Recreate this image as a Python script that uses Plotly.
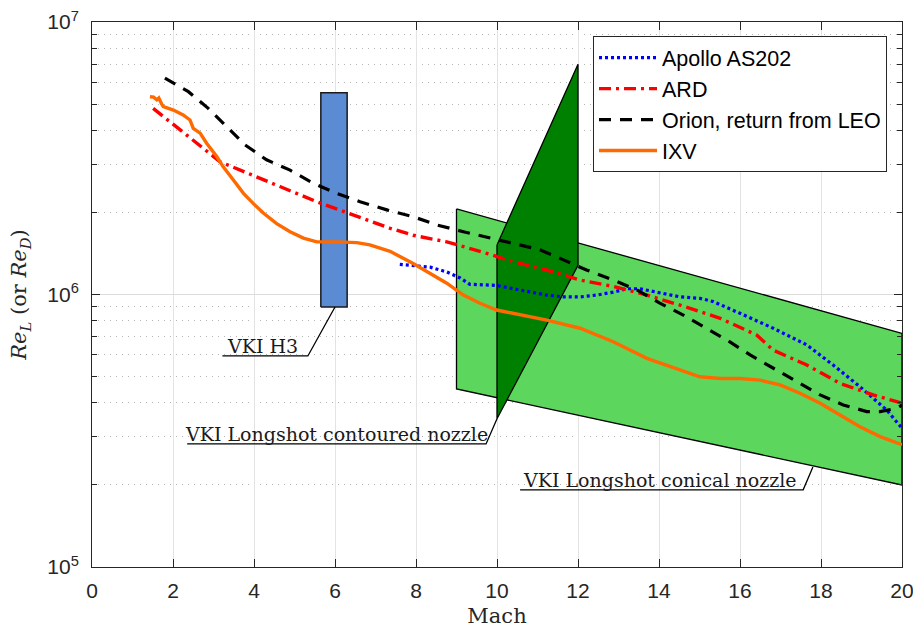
import math
import plotly.graph_objects as go

# ---------------- data ----------------
apollo_mach = [7.6, 8.35, 8.76, 9.09, 9.33, 9.99, 10.4, 10.81, 11.23, 11.64, 12.05, 12.46, 12.87,
               13.2, 13.53, 13.94, 14.52, 15.01, 15.34, 16.0, 16.82, 17.65, 18.3, 18.96, 19.62, 20.0]
apollo_re = [1.29e6, 1.26e6, 1.21e6, 1.15e6, 1.09e6, 1.08e6, 1.05e6, 1.02e6, 9.95e5, 9.8e5, 9.8e5,
             9.95e5, 1.02e6, 1.05e6, 1.05e6, 1.02e6, 9.8e5, 9.68e5, 9.42e5, 8.53e5, 7.52e5, 6.53e5,
             5.51e5, 4.59e5, 3.77e5, 3.23e5]

ard_mach = [1.51, 2.01, 2.59, 3.16, 3.82, 4.64, 5.55, 6.54, 7.36, 7.93, 8.76, 9.58, 10.4, 11.23,
            12.05, 12.87, 13.7, 14.52, 15.51, 16.41, 16.82, 17.65, 18.47, 19.29, 20.0]
ard_re = [4.82e6, 4.19e6, 3.59e6, 3.07e6, 2.79e6, 2.49e6, 2.19e6, 1.93e6, 1.75e6, 1.65e6, 1.56e6,
          1.44e6, 1.32e6, 1.23e6, 1.13e6, 1.07e6, 9.95e5, 9.14e5, 8.18e5, 7.10e5, 6.25e5, 5.51e5,
          4.72e5, 4.28e5, 3.99e5]

orion_mach = [1.8, 2.38, 2.87, 3.33, 3.78, 4.31, 4.89, 5.46, 6.04, 6.62, 7.3, 7.93, 8.51, 9.17,
              9.83, 10.4, 11.06, 11.64, 12.21, 12.87, 13.45, 14.02, 14.6, 15.18, 15.75, 16.25,
              16.82, 17.4, 17.98, 18.55, 19.13, 19.46, 19.87, 20.0]
orion_re = [6.22e6, 5.55e6, 4.82e6, 4.13e6, 3.54e6, 3.12e6, 2.86e6, 2.56e6, 2.35e6, 2.19e6, 2.04e6,
            1.93e6, 1.80e6, 1.70e6, 1.61e6, 1.54e6, 1.46e6, 1.34e6, 1.23e6, 1.13e6, 1.04e6, 9.3e5,
            8.4e5, 7.5e5, 6.7e5, 6.0e5, 5.36e5, 4.79e5, 4.28e5, 3.93e5, 3.72e5, 3.72e5, 3.82e5, 3.93e5]

ixv_mach = [1.43, 1.52, 1.6, 1.65, 1.72, 1.76, 2.01, 2.25, 2.42, 2.5, 2.67, 2.83, 3.08, 3.24, 3.49,
            3.74, 3.98, 4.23, 4.56, 4.89, 5.22, 5.55, 6.04, 6.54, 6.86, 7.36, 7.93, 8.76, 9.17,
            9.58, 9.99, 10.4, 10.81, 11.23, 12.05, 12.87, 13.7, 14.52, 15.01, 15.51, 16.0, 16.49,
            16.99, 17.48, 17.98, 18.47, 18.96, 19.46, 20.0]
ixv_re = [5.32e6, 5.30e6, 5.18e6, 5.26e6, 5.0e6, 4.89e6, 4.75e6, 4.56e6, 4.37e6, 4.07e6, 3.91e6,
          3.59e6, 3.21e6, 2.94e6, 2.63e6, 2.35e6, 2.16e6, 1.99e6, 1.82e6, 1.70e6, 1.61e6, 1.56e6,
          1.56e6, 1.55e6, 1.52e6, 1.44e6, 1.30e6, 1.10e6, 9.95e5, 9.29e5, 8.77e5, 8.53e5, 8.34e5,
          8.05e5, 7.52e5, 6.71e5, 5.83e5, 5.28e5, 4.99e5, 4.92e5, 4.92e5, 4.85e5, 4.66e5, 4.34e5,
          3.99e5, 3.61e5, 3.27e5, 3.01e5, 2.81e5]

# facility envelopes
h3_mach = [5.65, 6.3]
h3_re = [9.0e5, 5.5e6]
conical_mach = [9.0, 20.0]
conical_upper = [2.06e6, 7.2e5]
conical_lower = [4.5e5, 2.0e5]
contoured_mach = [10.0, 12.0]
contoured_upper = [1.52e6, 7.0e6]
contoured_lower = [3.5e5, 1.28e6]

x_ticks = [0, 2, 4, 6, 8, 10, 12, 14, 16, 18, 20]
y_ticks = [1e5, 1e6, 1e7]
y_tick_text = ["10<sup>5</sup>", "10<sup>6</sup>", "10<sup>7</sup>"]
y_minor = [m * 10 ** e for e in (5, 6) for m in range(2, 10)]

# ---------------- figure ----------------
fig = go.Figure()
edge = dict(color="black", width=1.3)

# conical nozzle (light green)
fig.add_trace(go.Scatter(
    x=[conical_mach[0], conical_mach[1], conical_mach[1], conical_mach[0], conical_mach[0]],
    y=[conical_upper[0], conical_upper[1], conical_lower[1], conical_lower[0], conical_upper[0]],
    mode="lines", fill="toself", fillcolor="#5cd65c", line=edge, showlegend=False, hoverinfo="skip"))
# contoured nozzle (dark green)
fig.add_trace(go.Scatter(
    x=[contoured_mach[0], contoured_mach[1], contoured_mach[1], contoured_mach[0], contoured_mach[0]],
    y=[contoured_upper[0], contoured_upper[1], contoured_lower[1], contoured_lower[0], contoured_upper[0]],
    mode="lines", fill="toself", fillcolor="#008000", line=edge, showlegend=False, hoverinfo="skip"))
# H3 (blue)
fig.add_trace(go.Scatter(
    x=[h3_mach[0], h3_mach[1], h3_mach[1], h3_mach[0], h3_mach[0]],
    y=[h3_re[0], h3_re[0], h3_re[1], h3_re[1], h3_re[0]],
    mode="lines", fill="toself", fillcolor="#5b8bd3", line=dict(color="#1a1a1a", width=1.5),
    showlegend=False, hoverinfo="skip"))

# callouts: (text, text centre mach, underline start, underline end, underline Re, target mach, target Re)
callouts = [
    ("VKI H3", 4.2, 3.22, 5.33, 5.95e5, 6.0, h3_re[0]),
    ("VKI Longshot contoured nozzle", 6.03, 2.35, 9.73, 2.83e5, contoured_mach[0], contoured_lower[0]),
    ("VKI Longshot conical nozzle", 14.02, 10.57, 17.56, 1.92e5, 17.8, 2.33e5),
]
for txt, xc, x0, x1, yu, xt, yt in callouts:
    fig.add_trace(go.Scatter(x=[x0, x1, xt], y=[yu, yu, yt], mode="lines",
                             line=dict(color="black", width=1.3), showlegend=False, hoverinfo="skip"))
    fig.add_annotation(x=xc, y=math.log10(yu), xref="x", yref="y", text=txt, showarrow=False,
                       yanchor="bottom", yshift=-3,
                       font=dict(family="DejaVu Serif", size=19, color="#1a1a1a"))

# curves
fig.add_trace(go.Scatter(x=apollo_mach, y=apollo_re, mode="lines", name="Apollo AS202",
                         line=dict(color="#0000ff", width=3.2, dash="3px,3px")))
fig.add_trace(go.Scatter(x=ard_mach, y=ard_re, mode="lines", name="ARD",
                         line=dict(color="#ff0000", width=3.4, dash="12px,5px,3px,5px")))
fig.add_trace(go.Scatter(x=orion_mach, y=orion_re, mode="lines", name="Orion, return from LEO",
                         line=dict(color="#000000", width=3.2, dash="12px,9px")))
fig.add_trace(go.Scatter(x=ixv_mach, y=ixv_re, mode="lines", name="IXV",
                         line=dict(color="#ff6a00", width=3.4)))

axis_col = "#262626"
fig.update_layout(
    width=913, height=628,
    margin=dict(l=92, r=11, t=22, b=61, autoexpand=False),
    paper_bgcolor="white", plot_bgcolor="white",
    font=dict(family="Liberation Sans", size=21, color=axis_col),
    showlegend=True,
    legend=dict(x=0.9815, y=0.974, xanchor="right", yanchor="top",
                bgcolor="white", bordercolor=axis_col, borderwidth=1,
                font=dict(family="Liberation Sans", size=21.5, color="black"),
                itemwidth=58, tracegroupgap=0),
    xaxis=dict(range=[0, 20], tickvals=x_ticks, ticks="inside", ticklen=8, tickcolor=axis_col,
               showline=True, linecolor=axis_col, linewidth=1, mirror="allticks",
               showgrid=True, gridcolor="#e3e3e3", gridwidth=1, zeroline=False, automargin=False,
               ticklabeloverflow="allow", ticklabelstandoff=5,
               title=dict(text="Mach", font=dict(family="DejaVu Serif", size=21), standoff=9),
               tickfont=dict(size=21)),
    yaxis=dict(type="log", range=[5, 7], tickvals=y_ticks, ticktext=y_tick_text,
               ticks="inside", ticklen=8, tickcolor=axis_col, automargin=False,
               ticklabeloverflow="allow", ticklabelstandoff=8,
               showline=True, linecolor=axis_col, linewidth=1, mirror="allticks",
               showgrid=True, gridcolor="#dcdcdc", gridwidth=1, zeroline=False,
               minor=dict(tickvals=y_minor, ticks="inside", ticklen=5, tickcolor=axis_col,
                          showgrid=True, gridcolor="#b4b4b4", griddash="1px,5px", gridwidth=1),
               title=dict(text="<i>Re</i><sub><i>L</i></sub> (or <i>Re</i><sub><i>D</i></sub>)",
                          font=dict(family="DejaVu Serif", size=21), standoff=14),
               tickfont=dict(size=21)),
)

fig.write_html("out.html")
